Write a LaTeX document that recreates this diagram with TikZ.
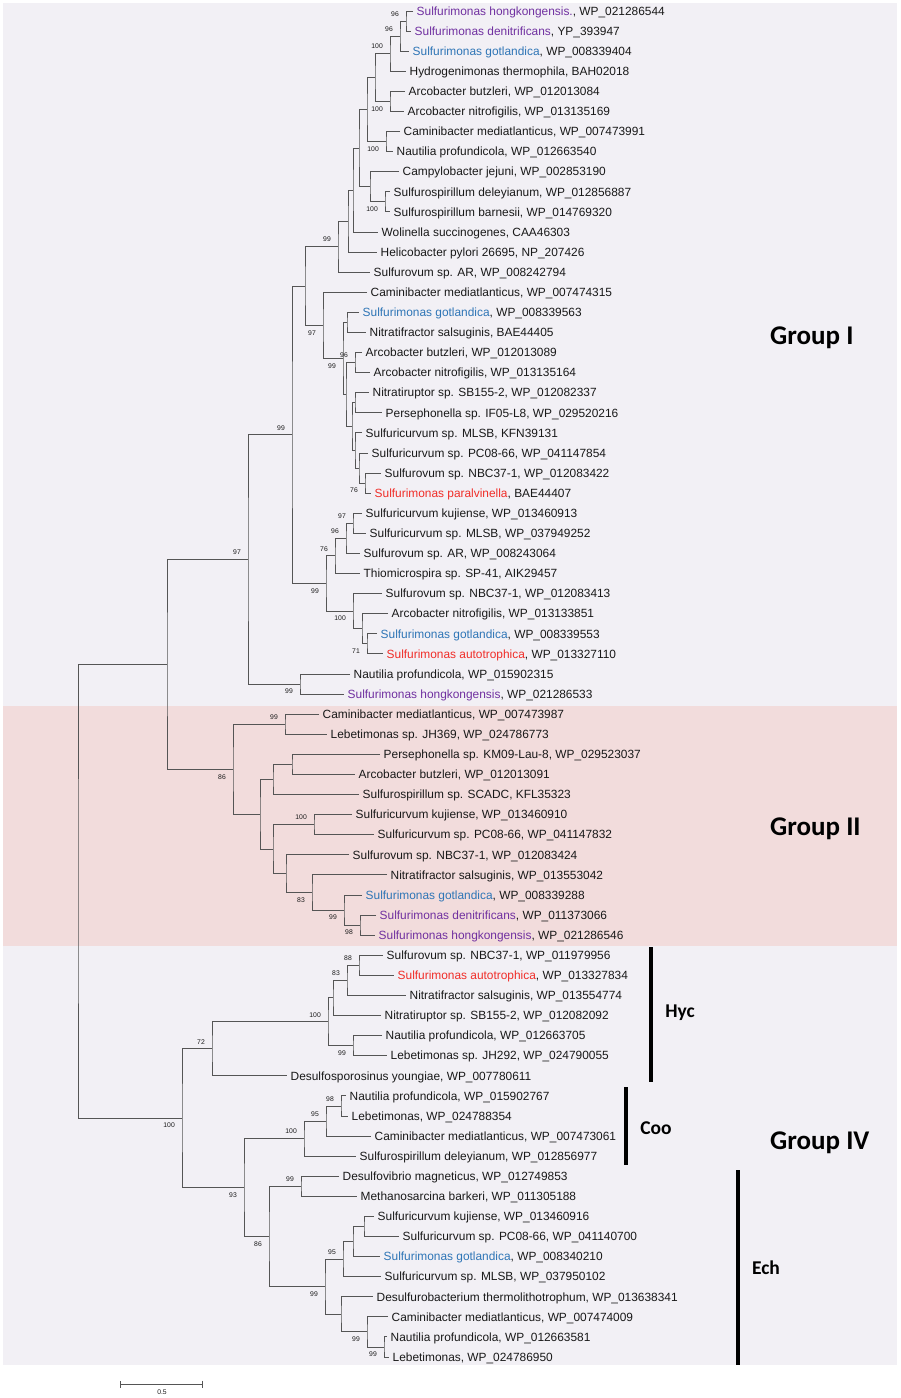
\documentclass[tikz,border=0pt]{standalone}
\usepackage{fontspec}
\setmainfont{Liberation Sans}
\newfontfamily\grpfont{Carlito}
\usetikzlibrary{arrows.meta}
\definecolor{bgall}{RGB}{242,240,245}
\definecolor{bgtwo}{RGB}{242,220,220}
\definecolor{tree}{RGB}{85,85,85}
\definecolor{txt}{RGB}{25,25,25}
\definecolor{smpur}{RGB}{112,48,160}
\definecolor{smblu}{RGB}{46,117,182}
\definecolor{smred}{RGB}{240,45,40}
\begin{document}
\begin{tikzpicture}[x=1pt,y=-1pt,
  branch/.style={draw=tree,line width=0.9pt},
  leaf/.style={anchor=west,inner xsep=3.5pt,inner ysep=0pt,text height=8.5pt,text depth=0pt,text=txt,font=\fontsize{11.9}{13}\selectfont},
  boot/.style={inner sep=0pt,text=txt,font=\fontsize{6.8}{7}\selectfont},
  bsup/.style={boot,anchor=south east,xshift=-7pt,yshift=4.5pt},
  bsdn/.style={boot,anchor=north east,xshift=-7pt,yshift=-4.8pt},
  grp/.style={anchor=west,inner sep=0pt,text=black,font=\grpfont\bfseries\fontsize{27}{30}\selectfont},
  gene/.style={inner sep=0pt,text=black,font=\grpfont\bfseries\fontsize{19.5}{22}\selectfont},
  gbar/.style={draw=black,line width=3.6pt}]
\useasboundingbox (0,0) rectangle (900,1398);
\fill[bgall] (3,3) rectangle (897,1365);
\fill[bgtwo] (3,706) rectangle (897,946);

% leaves, group I
\node[leaf] (l1) at (413,11.0) {\textcolor{smpur}{Sulfurimonas hongkongensis.}, WP\_021286544};
\node[leaf] (l2) at (411,31.1) {\textcolor{smpur}{Sulfurimonas denitrificans}, YP\_393947};
\node[leaf] (l3) at (409,51.2) {\textcolor{smblu}{Sulfurimonas gotlandica}, WP\_008339404};
\node[leaf] (l4) at (406,71.3) {Hydrogenimonas thermophila, BAH02018};
\node[leaf] (l5) at (405,91.4) {Arcobacter butzleri, WP\_012013084};
\node[leaf] (l6) at (404,111.5) {Arcobacter nitrofigilis, WP\_013135169};
\node[leaf] (l7) at (400,131.5) {Caminibacter mediatlanticus, WP\_007473991};
\node[leaf] (l8) at (393,151.6) {Nautilia profundicola, WP\_012663540};
\node[leaf] (l9) at (399,171.7) {Campylobacter jejuni, WP\_002853190};
\node[leaf] (l10) at (390,191.8) {Sulfurospirillum deleyianum, WP\_012856887};
\node[leaf] (l11) at (390,211.9) {Sulfurospirillum barnesii, WP\_014769320};
\node[leaf] (l12) at (378,232.0) {Wolinella succinogenes, CAA46303};
\node[leaf] (l13) at (377,252.1) {Helicobacter pylori 26695, NP\_207426};
\node[leaf] (l14) at (370,272.2) {Sulfurovum sp. AR, WP\_008242794};
\node[leaf] (l15) at (367,292.3) {Caminibacter mediatlanticus, WP\_007474315};
\node[leaf] (l16) at (359,312.4) {\textcolor{smblu}{Sulfurimonas gotlandica}, WP\_008339563};
\node[leaf] (l17) at (366,332.4) {Nitratifractor salsuginis, BAE44405};
\node[leaf] (l18) at (362,352.5) {Arcobacter butzleri, WP\_012013089};
\node[leaf] (l19) at (370,372.6) {Arcobacter nitrofigilis, WP\_013135164};
\node[leaf] (l20) at (369,392.7) {Nitratiruptor sp. SB155-2, WP\_012082337};
\node[leaf] (l21) at (382,412.8) {Persephonella sp. IF05-L8, WP\_029520216};
\node[leaf] (l22) at (362,432.9) {Sulfuricurvum sp. MLSB, KFN39131};
\node[leaf] (l23) at (368,453.0) {Sulfuricurvum sp. PC08-66, WP\_041147854};
\node[leaf] (l24) at (381,473.1) {Sulfurovum sp. NBC37-1, WP\_012083422};
\node[leaf] (l25) at (371,493.2) {\textcolor{smred}{Sulfurimonas paralvinella}, BAE44407};
\node[leaf] (l26) at (362,513.3) {Sulfuricurvum kujiense, WP\_013460913};
\node[leaf] (l27) at (366,533.3) {Sulfuricurvum sp. MLSB, WP\_037949252};
\node[leaf] (l28) at (360,553.4) {Sulfurovum sp. AR, WP\_008243064};
\node[leaf] (l29) at (360,573.5) {Thiomicrospira sp. SP-41, AIK29457};
\node[leaf] (l30) at (382,593.6) {Sulfurovum sp. NBC37-1, WP\_012083413};
\node[leaf] (l31) at (388,613.7) {Arcobacter nitrofigilis, WP\_013133851};
\node[leaf] (l32) at (377,633.8) {\textcolor{smblu}{Sulfurimonas gotlandica}, WP\_008339553};
\node[leaf] (l33) at (383,653.9) {\textcolor{smred}{Sulfurimonas autotrophica}, WP\_013327110};
\node[leaf] (l34) at (350,674.0) {Nautilia profundicola, WP\_015902315};
\node[leaf] (l35) at (344,694.1) {\textcolor{smpur}{Sulfurimonas hongkongensis}, WP\_021286533};
% leaves, group II
\node[leaf] (l36) at (319,714.2) {Caminibacter mediatlanticus, WP\_007473987};
\node[leaf] (l37) at (327,734.2) {Lebetimonas sp. JH369, WP\_024786773};
\node[leaf] (l38) at (380,754.3) {Persephonella sp. KM09-Lau-8, WP\_029523037};
\node[leaf] (l39) at (355,774.4) {Arcobacter butzleri, WP\_012013091};
\node[leaf] (l40) at (359,794.5) {Sulfurospirillum sp. SCADC, KFL35323};
\node[leaf] (l41) at (352,814.6) {Sulfuricurvum kujiense, WP\_013460910};
\node[leaf] (l42) at (374,834.7) {Sulfuricurvum sp. PC08-66, WP\_041147832};
\node[leaf] (l43) at (349,854.8) {Sulfurovum sp. NBC37-1, WP\_012083424};
\node[leaf] (l44) at (387,874.9) {Nitratifractor salsuginis, WP\_013553042};
\node[leaf] (l45) at (362,895.0) {\textcolor{smblu}{Sulfurimonas gotlandica}, WP\_008339288};
\node[leaf] (l46) at (376,915.1) {\textcolor{smpur}{Sulfurimonas denitrificans}, WP\_011373066};
\node[leaf] (l47) at (375,935.1) {\textcolor{smpur}{Sulfurimonas hongkongensis}, WP\_021286546};
% leaves, group IV
\node[leaf] (l48) at (383,955.2) {Sulfurovum sp. NBC37-1, WP\_011979956};
\node[leaf] (l49) at (394,975.3) {\textcolor{smred}{Sulfurimonas autotrophica}, WP\_013327834};
\node[leaf] (l50) at (406,995.4) {Nitratifractor salsuginis, WP\_013554774};
\node[leaf] (l51) at (381,1015.5) {Nitratiruptor sp. SB155-2, WP\_012082092};
\node[leaf] (l52) at (382,1035.6) {Nautilia profundicola, WP\_012663705};
\node[leaf] (l53) at (387,1055.7) {Lebetimonas sp. JH292, WP\_024790055};
\node[leaf] (l54) at (287,1075.8) {Desulfosporosinus youngiae, WP\_007780611};
\node[leaf] (l55) at (346,1095.9) {Nautilia profundicola, WP\_015902767};
\node[leaf] (l56) at (348,1116.0) {Lebetimonas, WP\_024788354};
\node[leaf] (l57) at (371,1136.0) {Caminibacter mediatlanticus, WP\_007473061};
\node[leaf] (l58) at (356,1156.1) {Sulfurospirillum deleyianum, WP\_012856977};
\node[leaf] (l59) at (339,1176.2) {Desulfovibrio magneticus, WP\_012749853};
\node[leaf] (l60) at (357,1196.3) {Methanosarcina barkeri, WP\_011305188};
\node[leaf] (l61) at (374,1216.4) {Sulfuricurvum kujiense, WP\_013460916};
\node[leaf] (l62) at (399,1236.5) {Sulfuricurvum sp. PC08-66, WP\_041140700};
\node[leaf] (l63) at (380,1256.6) {\textcolor{smblu}{Sulfurimonas gotlandica}, WP\_008340210};
\node[leaf] (l64) at (381,1276.7) {Sulfuricurvum sp. MLSB, WP\_037950102};
\node[leaf] (l65) at (373,1296.8) {Desulfurobacterium thermolithotrophum, WP\_013638341};
\node[leaf] (l66) at (388,1316.9) {Caminibacter mediatlanticus, WP\_007474009};
\node[leaf] (l67) at (387,1336.9) {Nautilia profundicola, WP\_012663581};
\node[leaf] (l68) at (389,1357.0) {Lebetimonas, WP\_024786950};

% inner nodes
\coordinate (A) at (406,21.05);
\coordinate (B) at (400,36.1);
\coordinate (C) at (390,53.7);
\coordinate (D) at (390,101.45);
\coordinate (E) at (375,77.6);
\coordinate (F) at (386,141.55);
\coordinate (G) at (367,109.6);
\coordinate (I) at (385,201.85);
\coordinate (J) at (370,186.8);
\coordinate (K) at (359,148.2);
\coordinate (L) at (353,190.1);
\coordinate (M) at (348,221.1);
\coordinate (N) at (338,246.65);
\coordinate (X) at (347,322.4);
\coordinate (Z) at (355,362.55);
\coordinate (AB) at (355,402.75);
\coordinate (AE) at (365,483.15);
\coordinate (AD) at (359,468.1);
\coordinate (AC) at (355,450.5);
\coordinate (AA) at (352,426.6);
\coordinate (Y) at (346,394.6);
\coordinate (Q) at (343,358.5);
\coordinate (P) at (323,325.4);
\coordinate (O) at (305,286.0);
\coordinate (SD) at (353,523.3);
\coordinate (SC) at (346,538.35);
\coordinate (SA) at (335,555.9);
\coordinate (SF) at (367,643.85);
\coordinate (SE) at (362,628.8);
\coordinate (SB) at (353,611.2);
\coordinate (S) at (326,583.55);
\coordinate (R) at (292,434.8);
\coordinate (U) at (300,684.05);
\coordinate (T) at (248,559.4);
\coordinate (WA) at (285,724.2);
\coordinate (WE) at (292,764.35);
\coordinate (WC) at (273,779.4);
\coordinate (WF) at (314,824.65);
\coordinate (WJ) at (360,925.1);
\coordinate (WI) at (344,910.05);
\coordinate (WH) at (312,892.5);
\coordinate (WG) at (286,873.65);
\coordinate (WD) at (273,849.15);
\coordinate (WB) at (260,814.3);
\coordinate (W) at (233,769.25);
\coordinate (V) at (167,664.3);
\coordinate (H88) at (359,965.25);
\coordinate (H83) at (347,980.3);
\coordinate (H1) at (333,997.9);
\coordinate (H99) at (353,1045.65);
\coordinate (H100) at (328,1021.8);
\coordinate (H72) at (212,1048.8);
\coordinate (C98) at (341,1105.95);
\coordinate (C95) at (326,1121.0);
\coordinate (C100) at (304,1138.55);
\coordinate (E99a) at (301,1186.25);
\coordinate (E364) at (364,1226.45);
\coordinate (E353) at (353,1241.5);
\coordinate (E95) at (343,1259.1);
\coordinate (E384) at (384,1346.95);
\coordinate (E367) at (367,1331.9);
\coordinate (E341) at (341,1314.35);
\coordinate (E99b) at (325,1286.7);
\coordinate (E86) at (269,1236.5);
\coordinate (G93) at (244,1187.5);
\coordinate (G100) at (182,1118.15);
\coordinate (root) at (78,891.2);

% branches
\foreach \p/\a/\b in {A/l1.west/l2.west, B/A/l3.west, C/B/l4.west, D/l5.west/l6.west,
  E/C/D, F/l7.west/l8.west, G/E/F, I/l10.west/l11.west, J/l9.west/I, K/G/J,
  L/K/l12.west, M/L/l13.west, N/M/l14.west, X/l16.west/l17.west, Z/l18.west/l19.west,
  AB/l20.west/l21.west, AE/l24.west/l25.west, AD/l23.west/AE, AC/l22.west/AD, AA/AB/AC,
  Y/Z/AA, Q/X/Y, P/l15.west/Q, O/N/P, SD/l26.west/l27.west, SC/SD/l28.west,
  SA/SC/l29.west, SF/l32.west/l33.west, SE/l31.west/SF, SB/l30.west/SE, S/SA/SB,
  R/O/S, U/l34.west/l35.west, T/R/U,
  WA/l36.west/l37.west, WE/l38.west/l39.west, WC/WE/l40.west, WF/l41.west/l42.west,
  WJ/l46.west/l47.west, WI/l45.west/WJ, WH/l44.west/WI, WG/l43.west/WH, WD/WF/WG,
  WB/WC/WD, W/WA/WB, V/T/W,
  H88/l48.west/l49.west, H83/H88/l50.west, H1/H83/l51.west, H99/l52.west/l53.west,
  H100/H1/H99, H72/H100/l54.west, C98/l55.west/l56.west, C95/C98/l57.west,
  C100/C95/l58.west, E99a/l59.west/l60.west, E364/l61.west/l62.west, E353/E364/l63.west,
  E95/E353/l64.west, E384/l67.west/l68.west, E367/l66.west/E384, E341/l65.west/E367,
  E99b/E95/E341, E86/E99a/E99b, G93/C100/E86, G100/H72/G93, root/V/G100}
  \draw[branch] (\a) -| (\p) |- (\b);

% bootstrap values
\foreach \p/\v in {A/96, B/96, C/100, N/99, Z/96, R/99, SD/97, SC/96, SA/76, T/97,
  WA/99, WF/100, H88/88, H83/83, H100/100, H72/72, C98/98, C95/95, C100/100, E99a/99, E95/95}
  \node[bsup] (b\p) at (\p) {\v};
\foreach \p/\v in {D/100, F/100, I/100, P/97, Q/99, AE/76, S/99, SB/100, SF/71, U/99,
  WJ/98, WI/99, WH/83, W/86, H99/99, E384/99, E367/99, E99b/99, E86/86, G93/93, G100/100}
  \node[bsdn] (b\p) at (\p) {\v};

% clusters
\coordinate (hycT) at (651,947);
\coordinate (hycB) at (651,1082);
\coordinate (cooT) at (626,1087);
\coordinate (cooB) at (626,1165);
\coordinate (echT) at (738,1170);
\coordinate (echB) at (738,1365);
\draw[gbar] (hycT) -- (hycB);
\draw[gbar] (cooT) -- (cooB);
\draw[gbar] (echT) -- (echB);
\node[gene] (hyc) at (680,1013) {Hyc};
\node[gene] (coo) at (656,1128) {Coo};
\node[gene] (ech) at (766,1268) {Ech};
\node[grp] (grpI) at (770,338) {Group I};
\node[grp] (grpII) at (770,829) {Group II};
\node[grp] (grpIV) at (770,1143) {Group IV};

% scale bar
\coordinate (sbL) at (120,1384);
\coordinate (sbR) at (203,1384);
\draw[branch,{Bar[width=7pt]}-{Bar[width=7pt]}] (sbL) -- (sbR);
\node[boot] (sblab) at (162,1392) {0.5};
\end{tikzpicture}
\end{document}
